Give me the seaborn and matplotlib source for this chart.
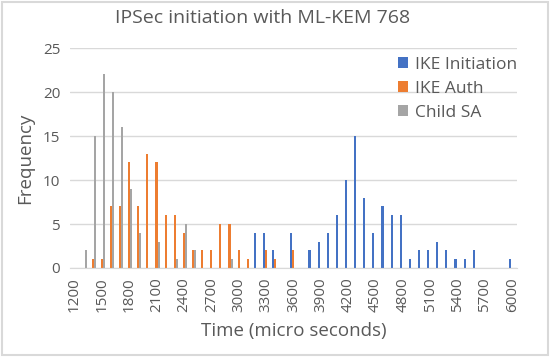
import matplotlib
matplotlib.use("Agg")
import matplotlib.pyplot as plt
import seaborn as sns
import pandas as pd
from matplotlib.patches import Rectangle

# Bins (micro seconds), one category per 100 us
bins = list(range(1200, 6100, 100))

# Frequencies per bin
ike_init = [0, 0, 0, 0, 0, 0, 0, 0, 0, 0,
            0, 0, 0, 0, 0, 0, 0, 0, 0, 0,
            4, 4, 2, 0, 4, 0, 2, 3, 4, 6,
            10, 15, 8, 4, 7, 6, 6, 1, 2, 2,
            3, 2, 1, 1, 2, 0, 0, 0, 1]
ike_auth = [0, 0, 1, 1, 7, 7, 12, 7, 13, 12,
            6, 6, 4, 2, 2, 2, 5, 5, 2, 1,
            0, 2, 1, 0, 2, 0, 0, 0, 0, 0,
            0, 0, 0, 0, 0, 0, 0, 0, 0, 0,
            0, 0, 0, 0, 0, 0, 0, 0, 0]
child_sa = [0, 2, 15, 22, 20, 16, 9, 4, 0, 3,
            0, 1, 5, 2, 0, 0, 0, 1, 0, 0,
            0, 0, 0, 0, 0, 0, 0, 0, 0, 0,
            0, 0, 0, 0, 0, 0, 0, 0, 0, 0,
            0, 0, 0, 0, 0, 0, 0, 0, 0]

series_names = ['IKE Initiation', 'IKE Auth', 'Child SA']
colors = ['#4472C4', '#ED7D31', '#A5A5A5']
tick_labels = [str(b) for b in bins[::3]]

sns.set_style("white")
plt.rcParams['font.family'] = ['Open Sans', 'DejaVu Sans']
text_color = '#595959'

df = pd.DataFrame({
    'Time': [str(b) for b in bins] * 3,
    'Frequency': ike_init + ike_auth + child_sa,
    'Series': [s for s in series_names for _ in bins],
})

fig = plt.figure(figsize=(5.5, 3.57), dpi=100)
ax = fig.add_axes([0.127, 0.2493, 0.813, 0.6162])

sns.barplot(data=df, x='Time', y='Frequency', hue='Series',
            hue_order=series_names, palette=colors, order=[str(b) for b in bins],
            width=0.7, saturation=1, linewidth=0, edgecolor='none',
            errorbar=None, ax=ax, legend=True)

ax.set_ylim(0, 25)
ax.set_yticks([0, 5, 10, 15, 20, 25])
ax.set_xlim(-0.5, len(bins) - 0.5)
ax.set_xticks(range(0, len(bins), 3))
ax.set_xticklabels(tick_labels, rotation=90)
ax.tick_params(axis='both', length=0, labelsize=11, labelcolor=text_color, pad=7)
ax.yaxis.grid(True, color='#D9D9D9', linewidth=1)
ax.set_axisbelow(True)
for side in ['top', 'left', 'right']:
    ax.spines[side].set_visible(False)
ax.spines['bottom'].set_color('#D9D9D9')

ax.set_xlabel('Time (micro seconds)', fontsize=13.5, color=text_color, labelpad=7)
ax.set_ylabel('Frequency', fontsize=13.5, color=text_color, labelpad=6)
fig.suptitle('IPSec initiation with ML-KEM 768', fontsize=14, color=text_color,
             x=0.477, y=0.975)

ax.legend(loc='upper right', bbox_to_anchor=(1.035, 1.03), frameon=False,
          fontsize=12.5, labelcolor=text_color, handlelength=0.6, handleheight=0.6,
          handletextpad=0.4, labelspacing=0.45)

fig.patches.append(Rectangle((0.004, 0.006), 0.992, 0.988, transform=fig.transFigure,
                             fill=False, edgecolor='#D9D9D9', linewidth=1.5))

fig.savefig('out.png', dpi=100)
